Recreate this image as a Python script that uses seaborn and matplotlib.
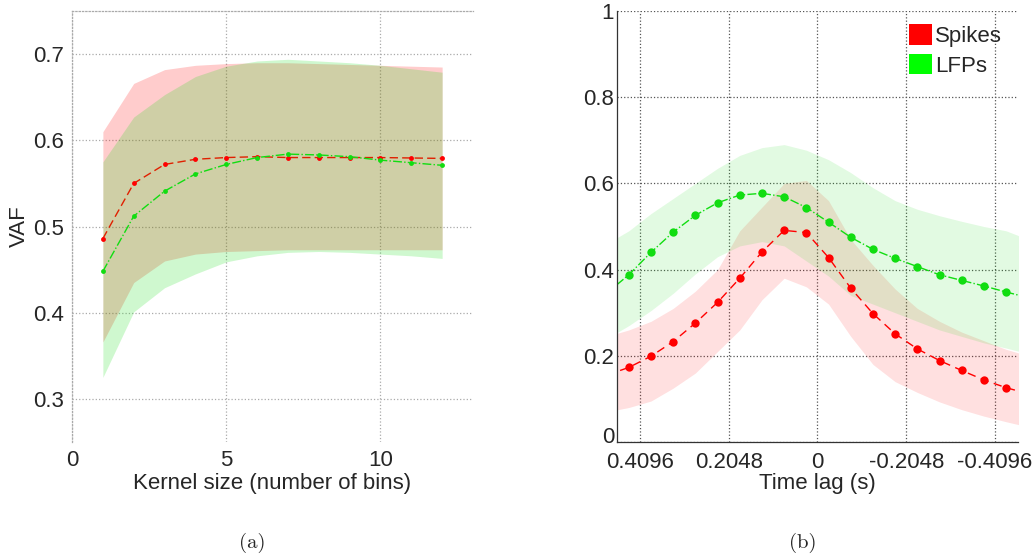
"""
Decoding accuracy (VAF) vs kernel size and vs time lag, spikes vs LFPs.
"""

import matplotlib
matplotlib.use("Agg")

import matplotlib.pyplot as plt
import matplotlib.transforms as mtransforms
import numpy as np
import seaborn as sns
from matplotlib.patches import Patch

# (a) VAF vs kernel size
kernel_size = [1, 2, 3, 4, 5, 6, 7, 8, 9, 10, 11, 12]
spk_mean = [0.486, 0.550, 0.572, 0.578, 0.580, 0.581, 0.580, 0.580, 0.580, 0.580, 0.5795, 0.579]
spk_hi = [0.610, 0.666, 0.682, 0.687, 0.689, 0.690, 0.690, 0.689, 0.688, 0.687, 0.686, 0.685]
spk_lo = [0.366, 0.435, 0.460, 0.468, 0.471, 0.472, 0.473, 0.473, 0.473, 0.473, 0.473, 0.473]
lfp_mean = [0.448, 0.512, 0.541, 0.561, 0.572, 0.580, 0.584, 0.583, 0.581, 0.577, 0.574, 0.571]
lfp_hi = [0.575, 0.627, 0.653, 0.674, 0.686, 0.692, 0.694, 0.692, 0.690, 0.687, 0.683, 0.679]
lfp_lo = [0.325, 0.401, 0.429, 0.445, 0.459, 0.466, 0.470, 0.471, 0.470, 0.468, 0.466, 0.463]

# (b) VAF vs time lag (s)
time_lag = [0.4864, 0.4352, 0.384, 0.3328, 0.2816, 0.2304, 0.1792, 0.128, 0.0768, 0.0256,
            -0.0256, -0.0768, -0.128, -0.1792, -0.2304, -0.2816, -0.3328, -0.384, -0.4352, -0.4864]
lag_spk_mean = [0.155, 0.173, 0.199, 0.233, 0.276, 0.324, 0.380, 0.441, 0.491, 0.486,
                0.428, 0.357, 0.298, 0.251, 0.216, 0.189, 0.166, 0.144, 0.126, 0.112]
lag_spk_hi = [0.245, 0.260, 0.280, 0.310, 0.350, 0.400, 0.490, 0.545, 0.600, 0.607,
              0.560, 0.470, 0.410, 0.355, 0.310, 0.280, 0.255, 0.235, 0.215, 0.200]
lag_spk_lo = [0.070, 0.080, 0.095, 0.125, 0.160, 0.210, 0.260, 0.330, 0.380, 0.360,
              0.320, 0.245, 0.180, 0.140, 0.115, 0.093, 0.075, 0.060, 0.047, 0.035]
lag_lfp_mean = [0.345, 0.388, 0.440, 0.487, 0.526, 0.555, 0.573, 0.577, 0.569, 0.544,
                0.510, 0.475, 0.447, 0.426, 0.407, 0.388, 0.375, 0.362, 0.348, 0.335]
lag_lfp_hi = [0.460, 0.490, 0.530, 0.565, 0.600, 0.635, 0.665, 0.683, 0.690, 0.677,
              0.655, 0.625, 0.590, 0.560, 0.540, 0.525, 0.512, 0.500, 0.490, 0.470]
lag_lfp_lo = [0.240, 0.270, 0.305, 0.345, 0.390, 0.430, 0.455, 0.465, 0.455, 0.420,
              0.385, 0.340, 0.320, 0.300, 0.280, 0.260, 0.245, 0.230, 0.218, 0.205]

lag_ticks = [0.4096, 0.2048, 0, -0.2048, -0.4096]
lag_tick_labels = ["0.4096", "0.2048", "0", "-0.2048", "-0.4096"]

RED = "#ff0000"
GREEN = "#11dd11"
FS = 16

sns.set_style("white")
plt.rcParams["font.family"] = ["Liberation Sans", "DejaVu Sans"]
plt.rcParams["font.size"] = FS

fig = plt.figure(figsize=(10.35, 5.59), dpi=100)
ax_a = fig.add_axes([0.0696, 0.2093, 0.3874, 0.771])
ax_b = fig.add_axes([0.5961, 0.2093, 0.3874, 0.771])

# ---- panel (a)
ax_a.fill_between(kernel_size, spk_lo, spk_hi, color=RED, alpha=0.2, linewidth=0)
ax_a.fill_between(kernel_size, lfp_lo, lfp_hi, color=GREEN, alpha=0.2, linewidth=0)
sns.lineplot(x=kernel_size, y=spk_mean, ax=ax_a, color="#e02000", linestyle=(0, (6, 3)),
             linewidth=1, marker="o", markersize=3.5, markeredgewidth=0, markerfacecolor=RED)
sns.lineplot(x=kernel_size, y=lfp_mean, ax=ax_a, color=GREEN, linestyle="-.",
             linewidth=1, marker="o", markersize=3.5, markeredgewidth=0)
ax_a.set_xlim(0, 13)
ax_a.set_ylim(0.25, 0.75)
ax_a.set_xticks([0, 5, 10])
ax_a.set_yticks([0.3, 0.4, 0.5, 0.6, 0.7])
ax_a.set_yticklabels(["0.3", "0.4", "0.5", "0.6", "0.7"])
ax_a.grid(True, color="#aaaaaa", linestyle=":", linewidth=0.9)
for side in ["bottom", "right"]:
    ax_a.spines[side].set_visible(False)
for side in ["left", "top"]:
    ax_a.spines[side].set_color("#aaaaaa")
    ax_a.spines[side].set_linestyle(":")
    ax_a.spines[side].set_linewidth(0.9)
ax_a.tick_params(axis="both", length=3, color="#aaaaaa", labelsize=FS, pad=3)
ax_a.tick_params(axis="x", length=0, pad=6)
ax_a.set_xlabel("Kernel size (number of bins)", fontsize=FS, labelpad=1)
ax_a.set_ylabel("VAF", fontsize=FS)
ax_a.yaxis.set_label_coords(-0.105, 0.5)

# ---- panel (b)
ax_b.fill_between(time_lag, lag_spk_lo, lag_spk_hi, color=RED, alpha=0.12, linewidth=0)
ax_b.fill_between(time_lag, lag_lfp_lo, lag_lfp_hi, color=GREEN, alpha=0.12, linewidth=0)
sns.lineplot(x=time_lag, y=lag_spk_mean, ax=ax_b, color=RED, linestyle=(0, (6, 4)),
             linewidth=1, marker="o", markersize=6, markeredgewidth=0, sort=True)
sns.lineplot(x=time_lag, y=lag_lfp_mean, ax=ax_b, color=GREEN, linestyle="-.",
             linewidth=1, marker="o", markersize=6, markeredgewidth=0, sort=True)
ax_b.set_xlim(0.4625, -0.4625)
ax_b.set_ylim(0, 1)
ax_b.set_xticks(lag_ticks)
ax_b.set_xticklabels(lag_tick_labels)
ax_b.set_yticks([0, 0.2, 0.4, 0.6, 0.8, 1])
ax_b.set_yticklabels(["0", "0.2", "0.4", "0.6", "0.8", "1"])
ax_b.grid(True, color="#555555", linestyle=":", linewidth=0.9)
ax_b.spines["right"].set_visible(False)
ax_b.spines["top"].set_visible(False)
for side in ["left", "bottom"]:
    ax_b.spines[side].set_color("#333333")
    ax_b.spines[side].set_linewidth(0.9)
ax_b.tick_params(axis="both", direction="in", length=4, color="#333333", labelsize=FS, pad=2)
ax_b.tick_params(axis="x", pad=7)
ax_b.set_xlabel("Time lag (s)", fontsize=FS, labelpad=0)

# nudge the "0" y label up a little so it clears the first x tick label
zero_label = ax_b.get_yticklabels()[0]
zero_label.set_transform(zero_label.get_transform()
                         + mtransforms.ScaledTranslation(0, 5 / 72, fig.dpi_scale_trans))

handles = [Patch(facecolor="#ff0000", edgecolor="none", label="Spikes"),
           Patch(facecolor="#00ff00", edgecolor="none", label="LFPs")]
ax_b.legend(handles=handles, loc="upper left", bbox_to_anchor=(0.705, 0.99), frameon=False,
            handlelength=1.05, handleheight=1.05, handletextpad=0.15, labelspacing=0.3,
            borderaxespad=0, fontsize=FS)

fig.text(0.2435, 0.029, "(a)", fontsize=15, family="cmr10", ha="center", va="center")
fig.text(0.776, 0.029, "(b)", fontsize=15, family="cmr10", ha="center", va="center")

fig.savefig("out.png", dpi=100)
